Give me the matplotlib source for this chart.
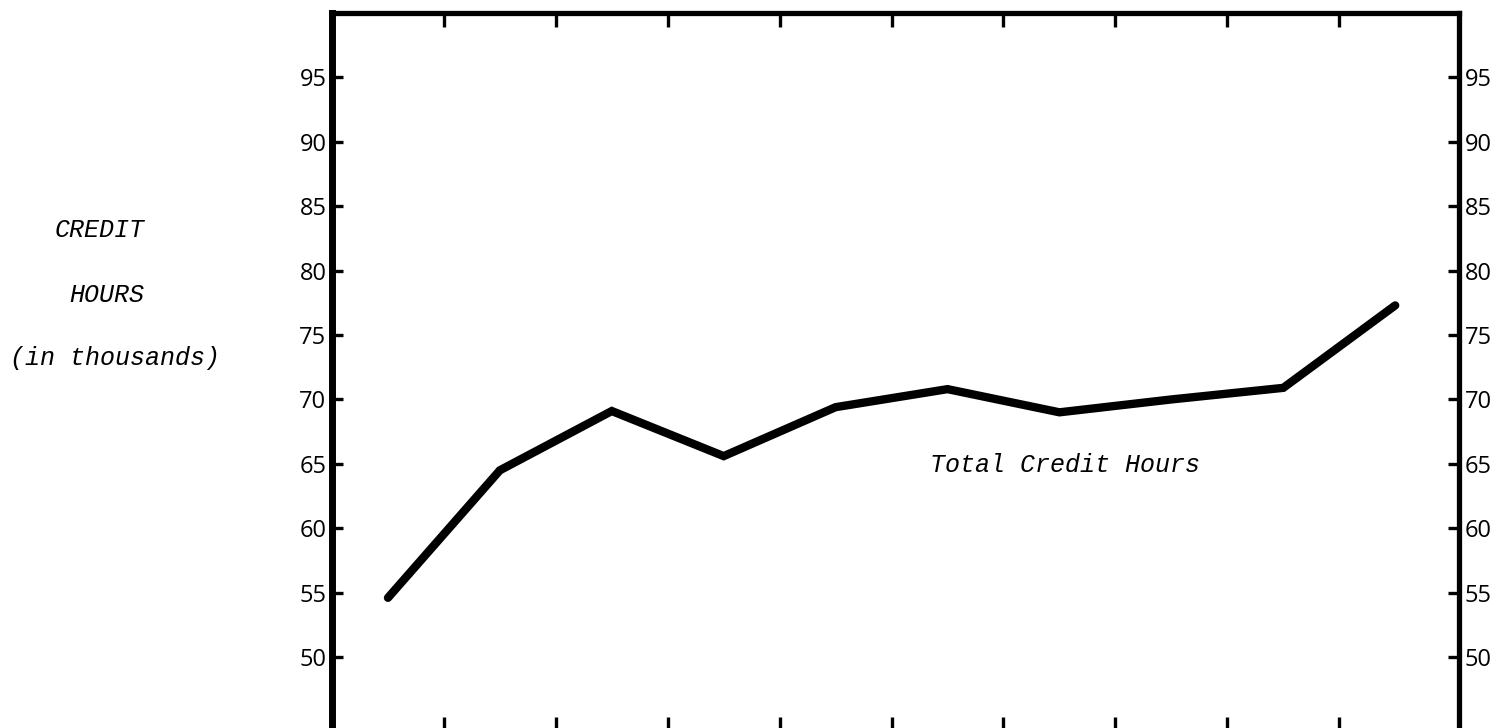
import matplotlib
matplotlib.use("Agg")
import matplotlib.pyplot as plt

# Total credit hours (thousands) for ten consecutive periods
periods = list(range(10))
credit_hours = [54.6, 64.5, 69.1, 65.6, 69.4, 70.8, 69.0, 70.0, 70.9, 77.3]

y_ticks = [50, 55, 60, 65, 70, 75, 80, 85, 90, 95]
# tick marks sit between consecutive periods
x_ticks = [p + 0.5 for p in periods[:-1]]

W, H, DPI = 1499, 728, 100
fig = plt.figure(figsize=(W / DPI, H / DPI), dpi=DPI)
fig.patch.set_facecolor("white")

# axes frame in pixel terms: left 332, right 1459, top 13, bottom just below the page edge
left, right, top, bottom = 332, 1459, 13, 731
ax = fig.add_axes([left / W, (H - bottom) / H, (right - left) / W, (bottom - top) / H])

ax.plot(periods, credit_hours, color="black", lw=6.0,
        solid_capstyle="round", solid_joinstyle="miter")

ax.set_xlim(-0.5, 9.57)
ax.set_ylim(44.26, 100)

ax.set_yticks(y_ticks)
ax.set_yticklabels([str(v) for v in y_ticks])
ax.set_xticks(x_ticks)
ax.set_xticklabels([])

ax.tick_params(axis="y", which="both", direction="in", length=8, width=2.4,
               left=True, right=True, labelleft=True, labelright=True,
               labelsize=17)
for t in ax.yaxis.get_major_ticks():
    t.label1.set_fontfamily("Open Sans")
    t.label2.set_fontfamily("Open Sans")
    t.label1.set_fontsize(17)
    t.label2.set_fontsize(17)
    t.set_pad(4)

ax.tick_params(axis="x", which="both", direction="in", length=10, width=2.4,
               top=True, bottom=True, labelbottom=False)

for side, lw in (("left", 5.0), ("right", 3.8), ("top", 3.8), ("bottom", 3.8)):
    ax.spines[side].set_linewidth(lw)
    ax.spines[side].set_color("black")

mono = ["Liberation Mono", "DejaVu Sans Mono"]
# series caption inside the plot area
fig.text(930 / W, 1 - 465 / H, "Total Credit Hours", family=mono, style="italic",
         fontsize=18, ha="left", va="center", color="black")

fig.text(100 / W, 1 - 230 / H, "CREDIT", family=mono, style="italic",
         fontsize=18, ha="center", va="center")
fig.text(107 / W, 1 - 295 / H, "HOURS", family=mono, style="italic",
         fontsize=18, ha="center", va="center")
fig.text(115 / W, 1 - 358 / H, "(in thousands)", family=mono, style="italic",
         fontsize=18, ha="center", va="center")

fig.savefig("out.png", dpi=DPI, facecolor="white")
